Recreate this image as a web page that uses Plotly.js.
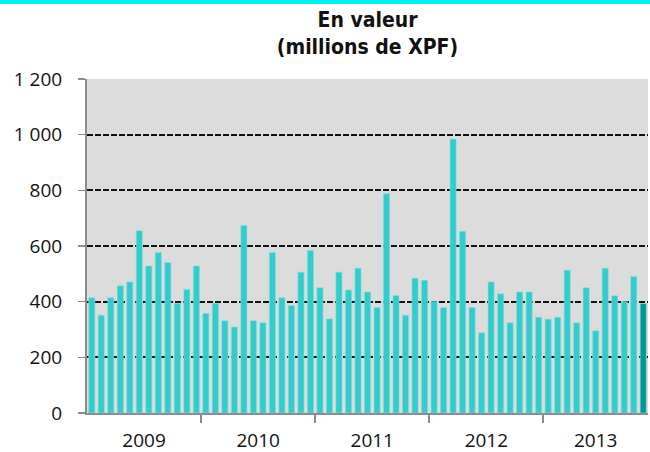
<!DOCTYPE html>
<html><head><meta charset="utf-8">
<script src="https://cdn.plot.ly/plotly-3.0.1.min.js"></script>
<style>html,body{margin:0;padding:0;background:#fff;}#strip{position:absolute;left:0;top:0;width:650px;height:4px;background:#00F2F2;z-index:5}#chart{width:650px;height:452px;}</style>
</head><body>
<div id="strip"></div>
<div id="chart"></div>
<script>
const years = ['2009','2010','2011','2012','2013'];
const monthsPerYear = [12,12,12,12,11];
const values = [
  414,351,414,457,471,655,528,577,541,394,444,528,
  358,394,331,309,674,331,324,577,414,386,506,584,
  450,338,506,442,520,435,379,788,422,351,484,477,
  400,379,984,653,379,288,471,428,324,435,435,344,
  337,344,513,324,450,295,520,421,400,490,393
];
const colorMain = '#33CCCC';
const colorLast = '#009999';

const xs = values.map((v,i)=>i);
const colors = values.map((v,i)=> i===values.length-1 ? colorLast : colorMain);

const bounds = [], centers = [];
let acc = 0;
monthsPerYear.forEach((m)=>{ bounds.push(acc-0.5); centers.push(acc + (m-1)/2); acc += m; });

const trace = {
  type:'bar', x:xs, y:values,
  marker:{color:colors, line:{color:'#7fdede', width:0.6}},
  hoverinfo:'y'
};
const dummy = {type:'bar', x:[centers[0]], y:[0], xaxis:'x2', showlegend:false, hoverinfo:'skip', marker:{color:'rgba(0,0,0,0)'}};

const layout = {
  width:650, height:452,
  margin:{l:87, r:2, t:79, b:39},
  paper_bgcolor:'#ffffff', plot_bgcolor:'#DCDCDC',
  showlegend:false, bargap:0.36,
  separators:'. ',
  title:{text:'<b>En valeur<br>(millions de XPF)</b>', x:0.5, xref:'paper', xanchor:'center',
         yref:'container', y:0.94, yanchor:'top',
         font:{family:'"Liberation Sans Narrow","DejaVu Sans Condensed",sans-serif', size:21, color:'#111'}},
  xaxis:{range:[-0.5, values.length-0.5], tickvals:bounds.slice(1), showticklabels:false,
         ticks:'outside', ticklen:8, tickcolor:'#8c8c8c', tickwidth:2,
         showline:true, linecolor:'#8c8c8c', linewidth:2, showgrid:false, zeroline:false, fixedrange:true},
  xaxis2:{overlaying:'x', matches:'x', anchor:'y', side:'bottom', tickvals:centers, ticktext:years,
          ticks:'', showline:false, showgrid:false, zeroline:false, ticklabelstandoff:14,
          tickfont:{family:'"Open Sans","Noto Sans",sans-serif', size:19, color:'#111'}},
  yaxis:{range:[0,1200], tickvals:[0,200,400,600,800,1000,1200], tickformat:',d',
         ticks:'outside', ticklen:7, tickcolor:'#8c8c8c', tickwidth:1.5, ticklabelstandoff:12,
         showline:true, linecolor:'#8c8c8c', linewidth:2,
         showgrid:true, gridcolor:'#111111', gridwidth:2, griddash:'6px,2px', zeroline:false,
         tickfont:{family:'"Open Sans","Noto Sans",sans-serif', size:19, color:'#111'}}
};
Plotly.newPlot('chart',[trace, dummy],layout,{displayModeBar:false, staticPlot:true});
</script>
</body></html>
